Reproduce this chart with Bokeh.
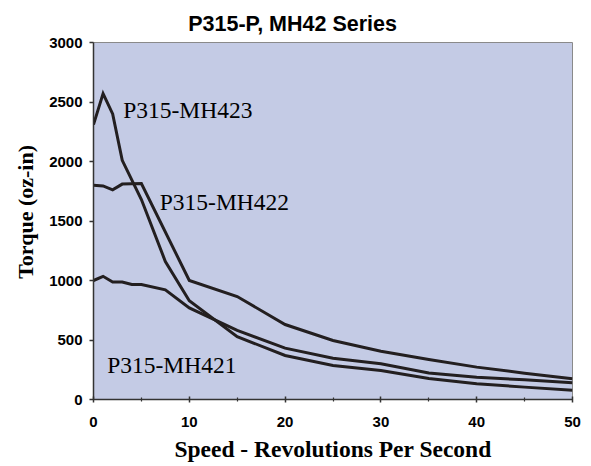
from bokeh.plotting import figure
from bokeh.models import Range1d, FixedTicker, Label, Title
from bokeh.embed import file_html
from bokeh.resources import INLINE

# ---- data ----
x_mh423 = [0, 1, 2, 3, 5, 7.5, 10, 15, 20, 25, 30, 35, 40, 45, 50]
y_mh423 = [2310, 2570, 2400, 2010, 1680, 1160, 830, 528, 370, 286, 244, 176, 132, 104, 78]

x_mh422 = [0, 1, 2, 3, 5, 10, 15, 20, 25, 30, 35, 40, 45, 50]
y_mh422 = [1800, 1795, 1762, 1810, 1815, 1000, 865, 630, 496, 406, 336, 272, 221, 174]

x_mh421 = [0, 1, 2, 3, 4, 5, 7.5, 10, 15, 20, 25, 30, 35, 40, 45, 50]
y_mh421 = [1000, 1035, 987, 987, 966, 966, 922, 770, 580, 432, 346, 300, 222, 187, 165, 140]

series_names = ["P315-MH423", "P315-MH422", "P315-MH421"]
label_x = [3.1, 6.92, 1.43]
label_y = [2434, 1658, 286]

x_ticks = [0, 10, 20, 30, 40, 50]
x_minor = [5, 15, 25, 35, 45]
y_ticks = [0, 500, 1000, 1500, 2000, 2500, 3000]

title_text = "P315-P, MH42 Series"
x_title = "Speed - Revolutions Per Second"
y_title = "Torque (oz-in)"

LINE = "#231F20"

p = figure(
    title=None,
    frame_width=479, frame_height=357,
    min_border_left=93, min_border_right=11, min_border_top=42, min_border_bottom=50,
    x_range=Range1d(0, 50), y_range=Range1d(0, 3000),
    output_backend="svg", toolbar_location=None,
)
p.background_fill_color = "#C4CBE5"
p.border_fill_color = "white"
p.outline_line_color = "#8a8a8a"
p.outline_line_width = 1
p.xgrid.visible = False
p.ygrid.visible = False

for ax in (p.xaxis[0], p.yaxis[0]):
    ax.axis_line_color = "#333333"
    ax.axis_line_width = 1.5
    ax.major_tick_line_color = "#333333"
    ax.major_tick_line_width = 1.5
    ax.minor_tick_line_color = "#333333"
    ax.minor_tick_line_width = 1.2
    ax.major_label_text_font = "Liberation Sans"
    ax.major_label_text_font_style = "bold"
    ax.major_label_text_font_size = "15px"
    ax.major_label_text_color = "black"

p.xaxis.ticker = FixedTicker(ticks=x_ticks, minor_ticks=x_minor)
p.xaxis.major_tick_in = 3
p.xaxis.major_tick_out = 3
p.xaxis.minor_tick_in = 2
p.xaxis.minor_tick_out = 2
p.xaxis.major_label_standoff = 14

p.yaxis.ticker = FixedTicker(ticks=y_ticks, minor_ticks=[])
p.yaxis.major_tick_in = 0
p.yaxis.major_tick_out = 4
p.yaxis.major_label_standoff = 7

for xs, ys in ((x_mh423, y_mh423), (x_mh422, y_mh422), (x_mh421, y_mh421)):
    p.line(xs, ys, line_color=LINE, line_width=3, line_join="miter")

for name, lx, ly in zip(series_names, label_x, label_y):
    p.add_layout(Label(x=lx, y=ly, text=name, text_font="Liberation Serif",
                       text_font_size="23.5px", text_color="black",
                       text_baseline="alphabetic", text_align="left"))

# titles
p.add_layout(Title(text=title_text, align="left", offset=94.7, standoff=13,
                   text_font="Liberation Sans", text_font_style="bold", text_font_size="21.5px",
                   text_color="black"), "above")
p.add_layout(Title(text=x_title, align="center", standoff=12, vertical_align="top",
                   text_font="Liberation Serif", text_font_style="bold", text_font_size="23.5px",
                   text_color="black"), "below")
p.add_layout(Title(text=y_title, align="left", offset=120.7, standoff=18,
                   text_font="Liberation Serif", text_font_style="bold", text_font_size="22px",
                   text_color="black"), "left")

open("out.html", "w").write(file_html(p, INLINE))
